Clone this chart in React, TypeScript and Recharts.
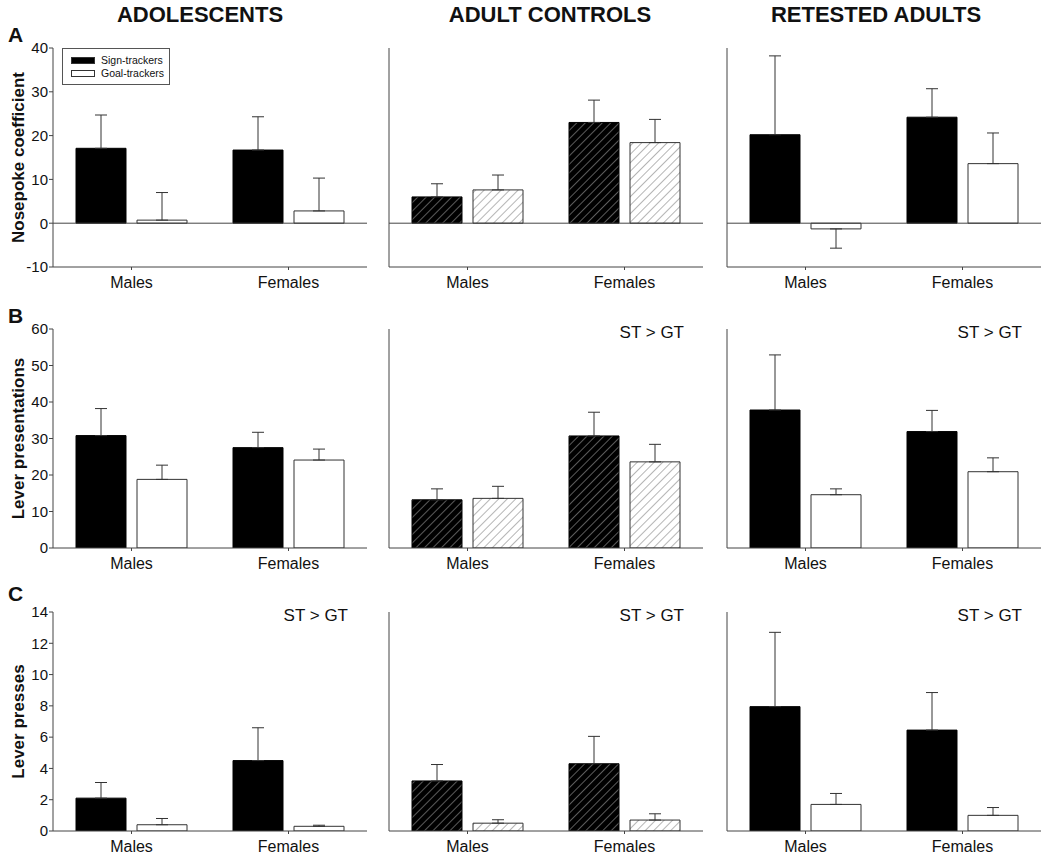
import React from 'react';
import { BarChart, Bar, XAxis, YAxis, ErrorBar, ReferenceLine } from 'recharts';

const groups = ['Males', 'Females'];
const cohorts = ['ADOLESCENTS', 'ADULT CONTROLS', 'RETESTED ADULTS'];
const measureLabels = ['Nosepoke coefficient', 'Lever presentations', 'Lever presses'];
const panelLetters = ['A', 'B', 'C'];
const seriesNames = ['Sign-trackers', 'Goal-trackers'];

// each array: [adolescents, adult controls, retested adults], inner = [males, females]
const nosepokeST = [[17.1, 16.7], [6.0, 23.0], [20.2, 24.2]];
const nosepokeSTErr = [[7.6, 7.6], [3.0, 5.1], [18.0, 6.5]];
const nosepokeGT = [[0.7, 2.8], [7.6, 18.4], [-1.3, 13.6]];
const nosepokeGTErr = [[6.3, 7.5], [3.4, 5.3], [4.4, 7.0]];

const presentST = [[30.8, 27.5], [13.2, 30.7], [37.8, 31.9]];
const presentSTErr = [[7.4, 4.2], [3.0, 6.5], [15.1, 5.8]];
const presentGT = [[18.8, 24.1], [13.6, 23.6], [14.6, 20.9]];
const presentGTErr = [[3.9, 3.0], [3.3, 4.8], [1.6, 3.8]];

const pressST = [[2.1, 4.5], [3.2, 4.3], [7.95, 6.45]];
const pressSTErr = [[1.0, 2.1], [1.05, 1.75], [4.75, 2.4]];
const pressGT = [[0.4, 0.3], [0.5, 0.7], [1.7, 1.0]];
const pressGTErr = [[0.4, 0.07], [0.22, 0.4], [0.7, 0.5]];

const nosepokeTicks = [-10, 0, 10, 20, 30, 40];
const presentTicks = [0, 10, 20, 30, 40, 50, 60];
const pressTicks = [0, 2, 4, 6, 8, 10, 12, 14];

// which panels get the "ST > GT" note, per row then cohort
const stGtNote = [
  [false, false, false],
  [false, true, true],
  [true, true, true],
];

const rows = [
  { st: nosepokeST, stErr: nosepokeSTErr, gt: nosepokeGT, gtErr: nosepokeGTErr, ticks: nosepokeTicks },
  { st: presentST, stErr: presentSTErr, gt: presentGT, gtErr: presentGTErr, ticks: presentTicks },
  { st: pressST, stErr: pressSTErr, gt: pressGT, gtErr: pressGTErr, ticks: pressTicks },
];

const FONT = 'Arial, "Liberation Sans", Helvetica, sans-serif';
const plotTops = [48, 329, 612];
const plotLefts = [53, 389, 727];
const plotW = 314;
const plotH = 219;
const titleCenters = [200, 550, 876];
const letterTops = [23, 304, 582];
const AXIS = '#444';
const INK = '#111';

const Panel = ({ r, c }: { r: number; c: number }) => {
  const row = rows[r];
  const data = groups.map((g, i) => {
    const st = row.st[c][i];
    const gt = row.gt[c][i];
    const se = row.stErr[c][i];
    const ge = row.gtErr[c][i];
    return {
      group: g,
      st,
      gt,
      stErr: st >= 0 ? [0, se] : [se, 0],
      gtErr: gt >= 0 ? [0, ge] : [ge, 0],
    };
  });
  const yW = c === 0 ? 53 : 25;
  const rightM = c === 2 ? 5 : 10;
  const hatched = c === 1;
  const idST = `hatchST${r}`;
  const idGT = `hatchGT${r}`;

  return (
    <div style={{ position: 'absolute', left: plotLefts[c] - yW, top: plotTops[r] - 10 }}>
      <BarChart
        width={yW + plotW + rightM}
        height={10 + plotH + 30}
        data={data}
        margin={{ top: 10, right: rightM, left: 0, bottom: 0 }}
        barSize={50}
        barGap={11}
      >
        {hatched && (
          <defs>
            <pattern id={idST} patternUnits="userSpaceOnUse" width="6" height="6" patternTransform="rotate(45)">
              <rect width="6" height="6" fill="#000" />
              <line x1="0" y1="0" x2="0" y2="6" stroke="#8c8c8c" strokeWidth="1.3" />
            </pattern>
            <pattern id={idGT} patternUnits="userSpaceOnUse" width="6" height="6" patternTransform="rotate(45)">
              <rect width="6" height="6" fill="#fff" />
              <line x1="0" y1="0" x2="0" y2="6" stroke="#777" strokeWidth="1.1" />
            </pattern>
          </defs>
        )}
        <XAxis
          dataKey="group"
          height={30}
          interval={0}
          tickSize={3}
          tickMargin={7}
          axisLine={{ stroke: AXIS }}
          tickLine={{ stroke: AXIS }}
          tick={{ fontSize: 16, fill: INK, fontFamily: FONT }}
        />
        <YAxis
          type="number"
          width={yW}
          domain={[row.ticks[0], row.ticks[row.ticks.length - 1]]}
          ticks={row.ticks}
          interval={0}
          allowDataOverflow
          tickSize={4}
          tickMargin={1}
          axisLine={{ stroke: AXIS }}
          tickLine={{ stroke: AXIS }}
          tick={c === 0 ? { fontSize: 15, fill: INK, fontFamily: FONT } : false}
          label={
            c === 0
              ? {
                  value: measureLabels[r],
                  angle: -90,
                  position: 'insideLeft',
                  offset: 18,
                  style: { textAnchor: 'middle', fontSize: 17, fontWeight: 700, fill: INK, fontFamily: FONT },
                }
              : undefined
          }
        />
        {r === 0 && <ReferenceLine y={0} stroke={AXIS} strokeWidth={1} />}
        <Bar
          dataKey="st"
          name={seriesNames[0]}
          fill={hatched ? `url(#${idST})` : '#000'}
          stroke="#000"
          strokeWidth={1}
          isAnimationActive={false}
        >
          <ErrorBar dataKey="stErr" width={6} stroke="#333" strokeWidth={1} direction="y" isAnimationActive={false} />
        </Bar>
        <Bar
          dataKey="gt"
          name={seriesNames[1]}
          fill={hatched ? `url(#${idGT})` : '#fff'}
          stroke="#333"
          strokeWidth={1}
          isAnimationActive={false}
        >
          <ErrorBar dataKey="gtErr" width={6} stroke="#333" strokeWidth={1} direction="y" isAnimationActive={false} />
        </Bar>
      </BarChart>
    </div>
  );
};

export default function App() {
  return (
    <div
      style={{
        position: 'absolute',
        left: 0,
        top: 0,
        width: 1050,
        height: 862,
        background: '#fff',
        fontFamily: FONT,
        color: INK,
        overflow: 'hidden',
      }}
    >
      {cohorts.map((t, i) => (
        <div
          key={t}
          style={{
            position: 'absolute',
            left: titleCenters[i] - 150,
            width: 300,
            top: 3,
            textAlign: 'center',
            fontSize: 22,
            fontWeight: 700,
            lineHeight: '24px',
          }}
        >
          {t}
        </div>
      ))}
      {panelLetters.map((l, i) => (
        <div
          key={l}
          style={{ position: 'absolute', left: 8, top: letterTops[i], fontSize: 21, fontWeight: 700, lineHeight: '24px' }}
        >
          {l}
        </div>
      ))}
      {rows.map((_, r) =>
        cohorts.map((_c, c) => <Panel key={`${r}-${c}`} r={r} c={c} />)
      )}
      {stGtNote.map((rowNotes, r) =>
        rowNotes.map((on, c) =>
          on ? (
            <div
              key={`n${r}${c}`}
              style={{
                position: 'absolute',
                left: plotLefts[c],
                width: plotW - 19,
                top: plotTops[r] - 6,
                textAlign: 'right',
                fontSize: 17,
                lineHeight: '20px',
              }}
            >
              ST &gt; GT
            </div>
          ) : null
        )
      )}
      {/* legend box, panel A */}
      <div
        style={{
          position: 'absolute',
          left: 62,
          top: 48,
          width: 106,
          height: 35,
          border: '1px solid #555',
          background: '#fff',
          fontSize: 10.5,
        }}
      >
        {seriesNames.map((n, i) => (
          <div key={n} style={{ position: 'absolute', left: 8, top: 5 + i * 13, height: 12, display: 'flex', alignItems: 'center' }}>
            <span
              style={{
                display: 'inline-block',
                width: 22,
                height: 5,
                background: i === 0 ? '#000' : '#fff',
                border: '1px solid #333',
                marginRight: 6,
              }}
            />
            <span style={{ lineHeight: '12px' }}>{n}</span>
          </div>
        ))}
      </div>
    </div>
  );
}
